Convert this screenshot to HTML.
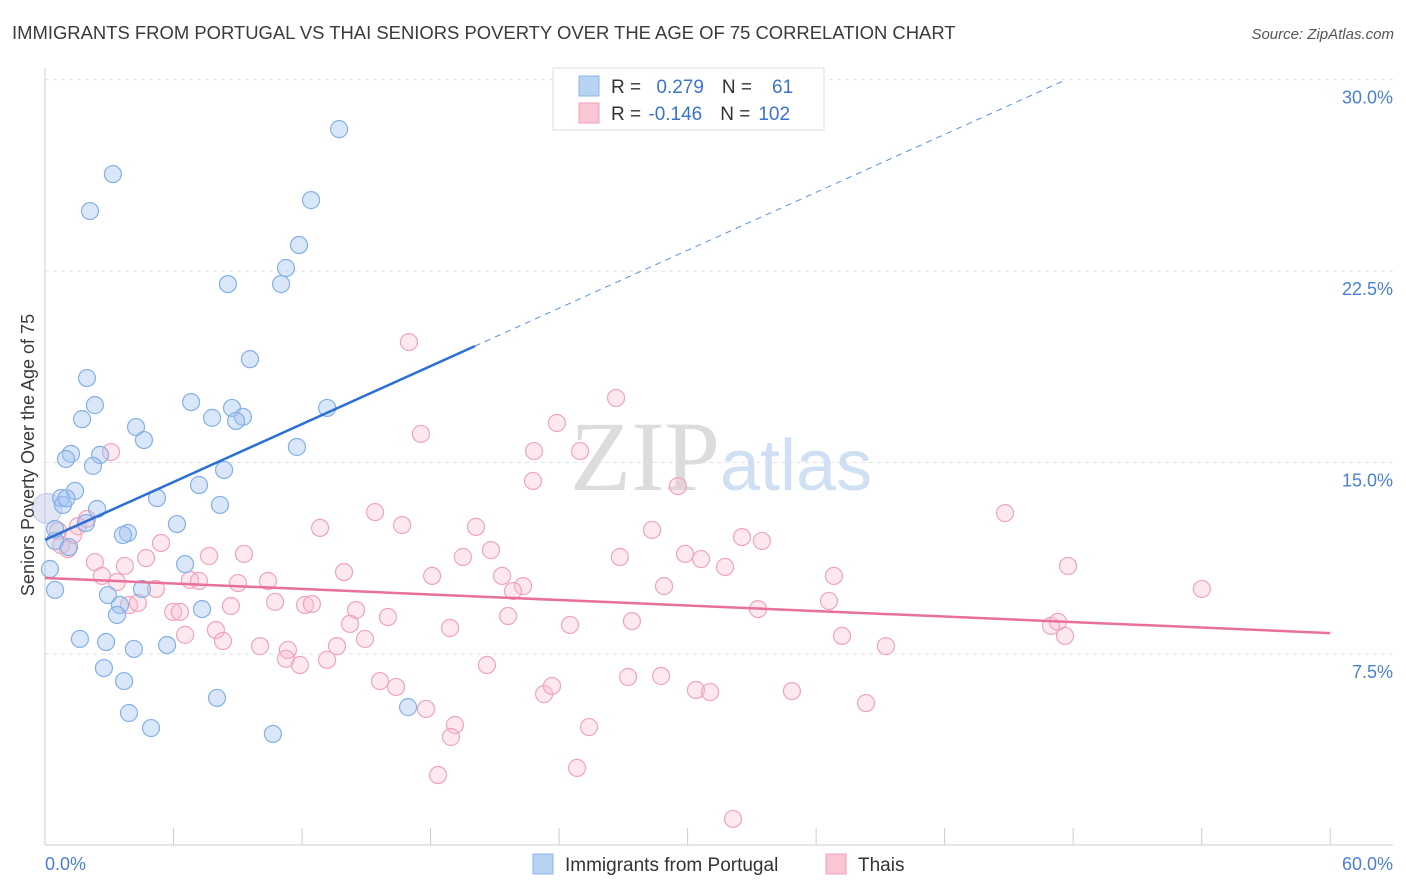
<!DOCTYPE html>
<html><head><meta charset="utf-8"><style>
body{margin:0;background:#fff;font-family:"Liberation Sans",sans-serif}
svg{display:block}
</style></head><body>
<svg width="1406" height="892" xmlns="http://www.w3.org/2000/svg">
<text x="12" y="39" font-size="18.45" fill="#3a3a3a">IMMIGRANTS FROM PORTUGAL VS THAI SENIORS POVERTY OVER THE AGE OF 75 CORRELATION CHART</text>
<text x="1394" y="39" font-size="15" fill="#555" font-style="italic" text-anchor="end">Source: ZipAtlas.com</text>
<g id="grid"></g>
<text x="720" y="490" font-size="100" font-family="Liberation Serif,serif" fill="#dcdcdc" text-anchor="end">ZIP</text>
<text x="720" y="490" font-size="72" fill="#cfe0f4">atlas</text>
<g id="axes"></g>
<g id="marks"></g>
<text x="34" y="455" font-size="18" fill="#3a3a3a" text-anchor="middle" transform="rotate(-90 34 455)">Seniors Poverty Over the Age of 75</text>
<text x="45" y="870" font-size="18" fill="#4a7fd4">0.0%</text>
<text x="1393" y="870" font-size="18" fill="#4a7fd4" text-anchor="end">60.0%</text>
<g>
<rect x="553" y="68" width="271" height="62" fill="#fff" stroke="#ddd"/>
<rect x="579" y="76" width="20" height="20" fill="#b8d2f2" stroke="#8ab4e8"/>
<rect x="579" y="103" width="20" height="20" fill="#f9c6d4" stroke="#f0a0b8"/>
<text x="611" y="93" font-size="19" fill="#333">R = <tspan fill="#3a73d0" dx="10">0.279</tspan><tspan fill="#333" dx="18">N =</tspan><tspan fill="#3a73d0" dx="20">61</tspan></text>
<text x="611" y="120" font-size="19" fill="#333">R = <tspan fill="#3a73d0" dx="2">-0.146</tspan><tspan fill="#333" dx="18">N =</tspan><tspan fill="#3a73d0" dx="8">102</tspan></text>
</g>
<g>
<rect x="533" y="854" width="20" height="20" fill="#b8d2f2" stroke="#8ab4e8"/>
<text x="565" y="871" font-size="19" fill="#333">Immigrants from Portugal</text>
<rect x="826" y="854" width="20" height="20" fill="#f9c6d4" stroke="#f0a0b8"/>
<text x="858" y="871" font-size="19" fill="#333">Thais</text>
</g>
</svg>
<script>
const yTicks=[7.5,15.0,22.5,30.0];
const xTicks=[0,6,12,18,24,30,36,42,48,54,60];
const blueX=[13.73,3.17,2.10,12.42,11.86,11.25,8.54,11.02,9.57,1.96,2.33,1.73,6.82,4.25,4.62,7.80,8.73,9.24,8.92,13.17,11.76,1.21,0.98,2.57,2.24,8.36,7.19,1.40,0.75,0.84,2.43,5.23,1.91,8.17,6.16,3.87,3.64,0.47,1.12,0.23,6.54,2.94,4.53,3.50,3.36,7.33,0.47,1.63,2.85,4.15,5.70,2.75,3.69,8.03,3.92,4.95,10.64,16.95,0.47,1.0];
const blueY=[28.06,26.30,24.85,25.28,23.52,22.62,21.99,21.99,19.05,18.31,17.25,16.70,17.37,16.39,15.88,16.75,17.14,16.79,16.63,17.14,15.61,15.34,15.14,15.30,14.87,14.71,14.12,13.89,13.61,13.34,13.18,13.61,12.63,13.34,12.59,12.24,12.16,11.93,11.69,10.83,11.02,9.81,10.05,9.42,9.03,9.26,10.01,8.09,7.97,7.70,7.85,6.95,6.44,5.78,5.19,4.60,4.37,5.42,12.4,13.6];
const pinkX=[16.99,26.66,23.90,17.55,22.83,24.98,3.08,22.78,29.55,44.82,15.41,16.67,12.84,20.12,28.34,32.54,33.47,0.61,1.54,1.96,1.31,0.75,1.07,2.33,4.72,5.42,7.66,9.29,19.51,20.82,26.84,29.88,30.63,31.75,47.76,54.01,2.66,3.36,3.73,6.77,7.19,9.01,10.41,13.96,18.07,21.34,22.32,21.85,28.90,36.83,3.92,5.18,4.34,5.98,6.30,8.68,10.74,12.14,12.46,14.52,16.01,18.91,21.62,24.51,27.40,33.29,36.60,6.54,7.98,8.31,10.04,11.34,11.25,11.90,13.17,13.63,14.24,14.94,37.21,39.26,46.97,47.29,47.62,15.64,16.39,17.79,19.14,18.95,20.63,23.30,23.67,25.40,27.22,28.76,30.39,31.05,34.87,38.33,18.35,24.84,32.12];
const pinkY=[19.72,17.53,16.55,16.12,15.45,15.45,15.41,14.28,14.08,13.02,13.06,12.55,12.44,12.48,12.36,12.08,11.93,12.32,12.51,12.79,12.16,11.77,11.61,11.10,11.26,11.85,11.34,11.42,11.30,11.57,11.30,11.42,11.22,10.91,10.95,10.05,10.56,10.32,10.95,10.40,10.36,10.28,10.36,10.71,10.56,10.56,10.16,9.97,10.16,10.56,9.42,10.05,9.50,9.15,9.15,9.38,9.54,9.42,9.46,9.22,8.95,8.52,8.99,8.64,8.79,9.26,9.58,8.25,8.44,8.01,7.81,7.66,7.31,7.07,7.27,7.81,8.68,8.09,8.21,7.81,8.60,8.76,8.21,6.44,6.21,5.35,4.72,4.25,7.07,5.93,6.25,4.64,6.60,6.64,6.09,6.01,6.05,5.58,2.76,3.04,1.04];
const blueTrend=[11.97,19.56,20.07];
const pinkTrend=[10.48,8.32];
const NS='http://www.w3.org/2000/svg';
const X0=45,XPX=21.42,Y0=845.5,YPX=25.53;
const sx=v=>X0+v*XPX, sy=v=>Y0-v*YPX;
function mk(t,a,p){const e=document.createElementNS(NS,t);for(const k in a)e.setAttribute(k,a[k]);p.appendChild(e);return e;}
const grid=document.getElementById('grid'),axes=document.getElementById('axes'),marks=document.getElementById('marks');
yTicks.forEach(v=>{
 const l=mk('line',{x1:45,x2:1393,y1:sy(v),y2:sy(v),stroke:'#e2e2e2','stroke-dasharray':'4,4'},grid);
 
 
 const t=mk('text',{x:1393,y:sy(v)+24,'font-size':18,fill:'#4a7fd4','text-anchor':'end'},axes);
 t.textContent=v.toFixed(1)+'%';
 
 
});
const ax=mk('line',{x1:45,x2:1393,y1:845,y2:845,stroke:'#ccc'},axes);


const ay=mk('line',{x1:45,x2:45,y1:68,y2:845,stroke:'#ccc'},axes);


xTicks.forEach(v=>{
 const l=mk('line',{x1:sx(v),x2:sx(v),y1:828,y2:845,stroke:'#ccc'},axes);
 
 
});
function dots(xs,ys,fill,stroke,name){
 xs.forEach((x,i)=>{
  const c=mk('circle',{cx:sx(x),cy:sy(ys[i]),r:8.5,fill:fill,stroke:stroke,'stroke-width':1.2},marks);
  
  
 });
}
const big=mk('circle',{cx:sx(0.1),cy:sy(13.2),r:15,fill:'rgba(190,200,230,0.45)',stroke:'#c0c8e8'},marks);


dots(pinkX,pinkY,'rgba(248,190,208,0.35)','#f0a4bc','thai-point');
dots(blueX,blueY,'rgba(160,196,240,0.4)','#84b0e6','portugal-point');
const bslope=(blueTrend[1]-blueTrend[0])/blueTrend[2];
const xEnd=(30.0-blueTrend[0])/bslope;
const bl=mk('line',{x1:sx(0),y1:sy(blueTrend[0]),x2:sx(blueTrend[2]),y2:sy(blueTrend[1]),stroke:'#2a6fd6','stroke-width':2.5},marks);


const bd=mk('line',{x1:sx(blueTrend[2]),y1:sy(blueTrend[1]),x2:sx(xEnd),y2:sy(30.0),stroke:'#5a8fe0','stroke-width':1,'stroke-dasharray':'6,5'},marks);


const pl=mk('line',{x1:sx(0),y1:sy(pinkTrend[0]),x2:sx(60),y2:sy(pinkTrend[1]),stroke:'#e8709a','stroke-width':2.5},marks);


</script>
</body></html>
